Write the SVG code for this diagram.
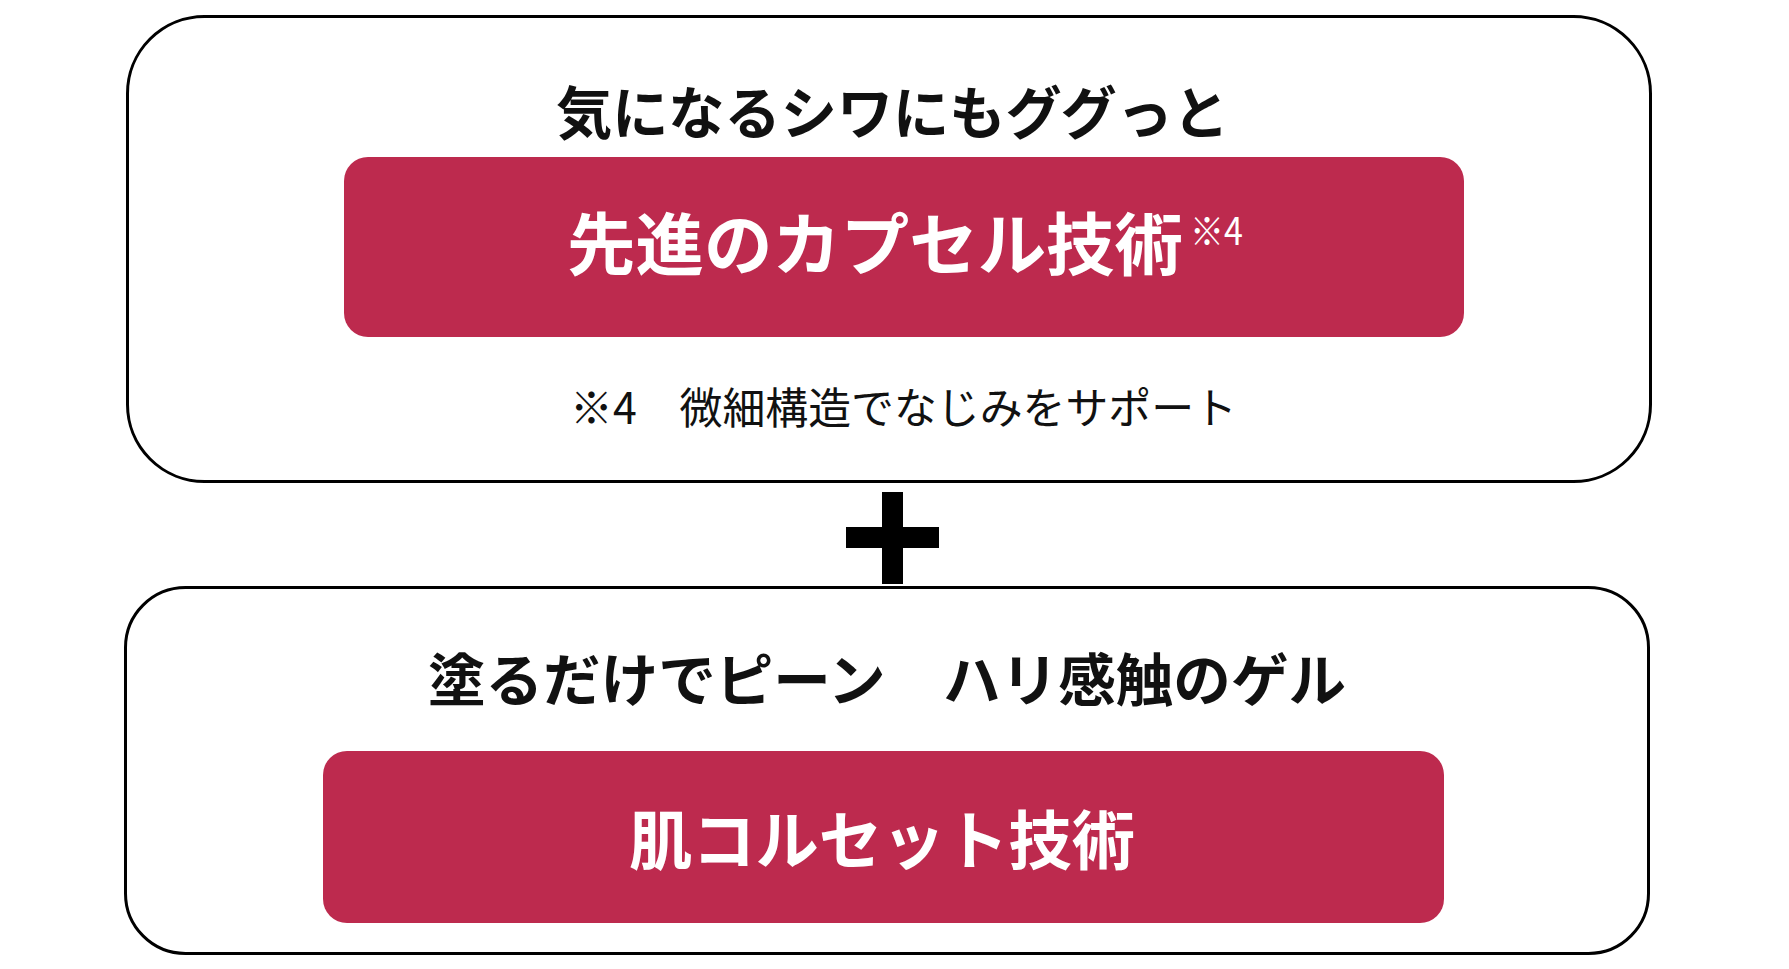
<svg xmlns="http://www.w3.org/2000/svg" width="1789" height="969" viewBox="0 0 1789 969">
<style>
.frame{fill:#fff;stroke:#000;stroke-width:3}
.band{fill:#BD2A4E}
.jp{font-family:"Noto Sans CJK JP","Liberation Sans",sans-serif}
.lat{font-family:"Liberation Sans","Noto Sans CJK JP",sans-serif}
.b{font-weight:bold}
.dark{fill:#111}
.light{fill:#fff}
</style>
<rect width="1789" height="969" fill="#fff"/>
<g id="top-node">
<rect class="frame" x="127.5" y="16.5" width="1523" height="465" rx="77" ry="77"/>
<text class="jp b dark" x="556" y="134" font-size="57" textLength="673" lengthAdjust="spacingAndGlyphs">気になるシワにもググっと</text>
<rect class="band" x="344" y="157" width="1120" height="180" rx="24" ry="24"/>
<text class="jp b light" x="567" y="270" font-size="68" textLength="616" lengthAdjust="spacingAndGlyphs">先進のカプセル技術</text>
<text class="jp light" x="1190" y="245" font-size="38" textLength="53" lengthAdjust="spacingAndGlyphs">※4</text>
<text class="jp dark" x="570" y="424" font-size="43" textLength="667" lengthAdjust="spacingAndGlyphs">※4　微細構造でなじみをサポート</text>
</g>
<g id="plus">
<rect x="882" y="492" width="21" height="92" fill="#000"/>
<rect x="846" y="527" width="93" height="21" fill="#000"/>
</g>
<g id="bottom-node">
<rect class="frame" x="125.5" y="587.5" width="1523" height="366" rx="60" ry="60"/>
<text class="jp b dark" x="428" y="701" font-size="57" textLength="918" lengthAdjust="spacingAndGlyphs">塗るだけでピーン　ハリ感触のゲル</text>
<rect class="band" x="323" y="751" width="1121" height="172" rx="24" ry="24"/>
<text class="jp b light" x="629" y="864" font-size="64" textLength="506" lengthAdjust="spacingAndGlyphs">肌コルセット技術</text>
</g>
<g id="connectors"></g>
</svg>
